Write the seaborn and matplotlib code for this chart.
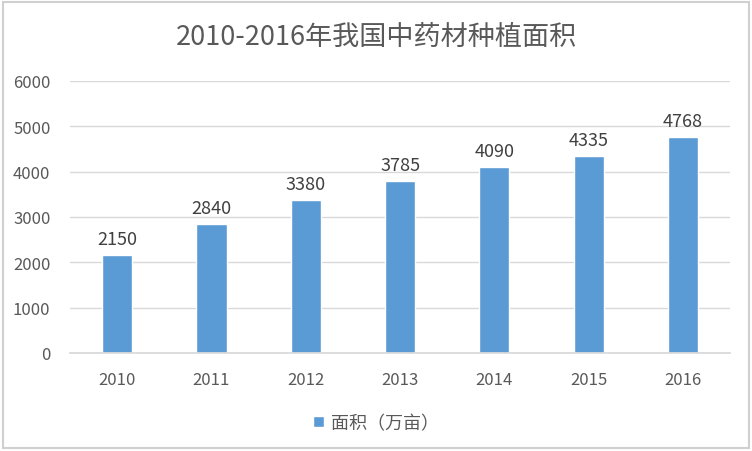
import matplotlib
matplotlib.use("Agg")
import matplotlib.pyplot as plt
import seaborn as sns
import pandas as pd
from matplotlib.patches import Rectangle

years = ["2010", "2011", "2012", "2013", "2014", "2015", "2016"]
areas = [2150, 2840, 3380, 3785, 4090, 4335, 4768]
series_name = "面积（万亩）"
title = "2010-2016年我国中药材种植面积"

sns.set_theme(style="white")
plt.rcParams['font.family'] = ['Noto Sans CJK SC', 'DejaVu Sans']

df = pd.DataFrame({"year": years, "area": areas, "series": series_name})

fig = plt.figure(figsize=(7.52, 4.52), dpi=100)
ax = fig.add_axes([0.093, 0.217, 0.878, 0.602])
color = "#5B9BD5"
sns.barplot(data=df, x="year", y="area", hue="series", palette=[color],
            width=0.32, ax=ax, legend=False, saturation=1)

ax.set_ylim(0, 6000)
ax.set_yticks(range(0, 6001, 1000))
ax.set_xlim(-0.5, 6.5)
ax.yaxis.grid(True, color="#D9D9D9", linewidth=1)
ax.set_axisbelow(True)
for s in ["top", "right", "left"]:
    ax.spines[s].set_visible(False)
ax.spines["bottom"].set_color("#D9D9D9")
ax.set_xlabel("")
ax.set_ylabel("")
ax.tick_params(axis="both", length=0, labelsize=12, labelcolor="#595959")
ax.tick_params(axis="y", pad=14)
ax.tick_params(axis="x", pad=13)

for i, v in enumerate(areas):
    ax.annotate(str(v), (i, v), xytext=(0, 5), textcoords="offset points",
                ha="center", va="bottom", fontsize=13, color="#404040")

fig.text(0.5, 0.918, title, ha="center", va="center", fontsize=19.5, color="#595959")

handle = Rectangle((0, 0), 1, 1, facecolor=color)
fig.legend([handle], [series_name], loc="center", bbox_to_anchor=(0.5, 0.062),
           frameon=False, fontsize=13, labelcolor="#595959",
           handlelength=0.6, handleheight=0.6, handletextpad=0.35)

border = Rectangle((0.004, 0.006), 0.992, 0.988, transform=fig.transFigure,
                   fill=False, edgecolor="#D0D0D0", linewidth=1.5)
fig.patches.append(border)

fig.savefig("out.png", dpi=100)
